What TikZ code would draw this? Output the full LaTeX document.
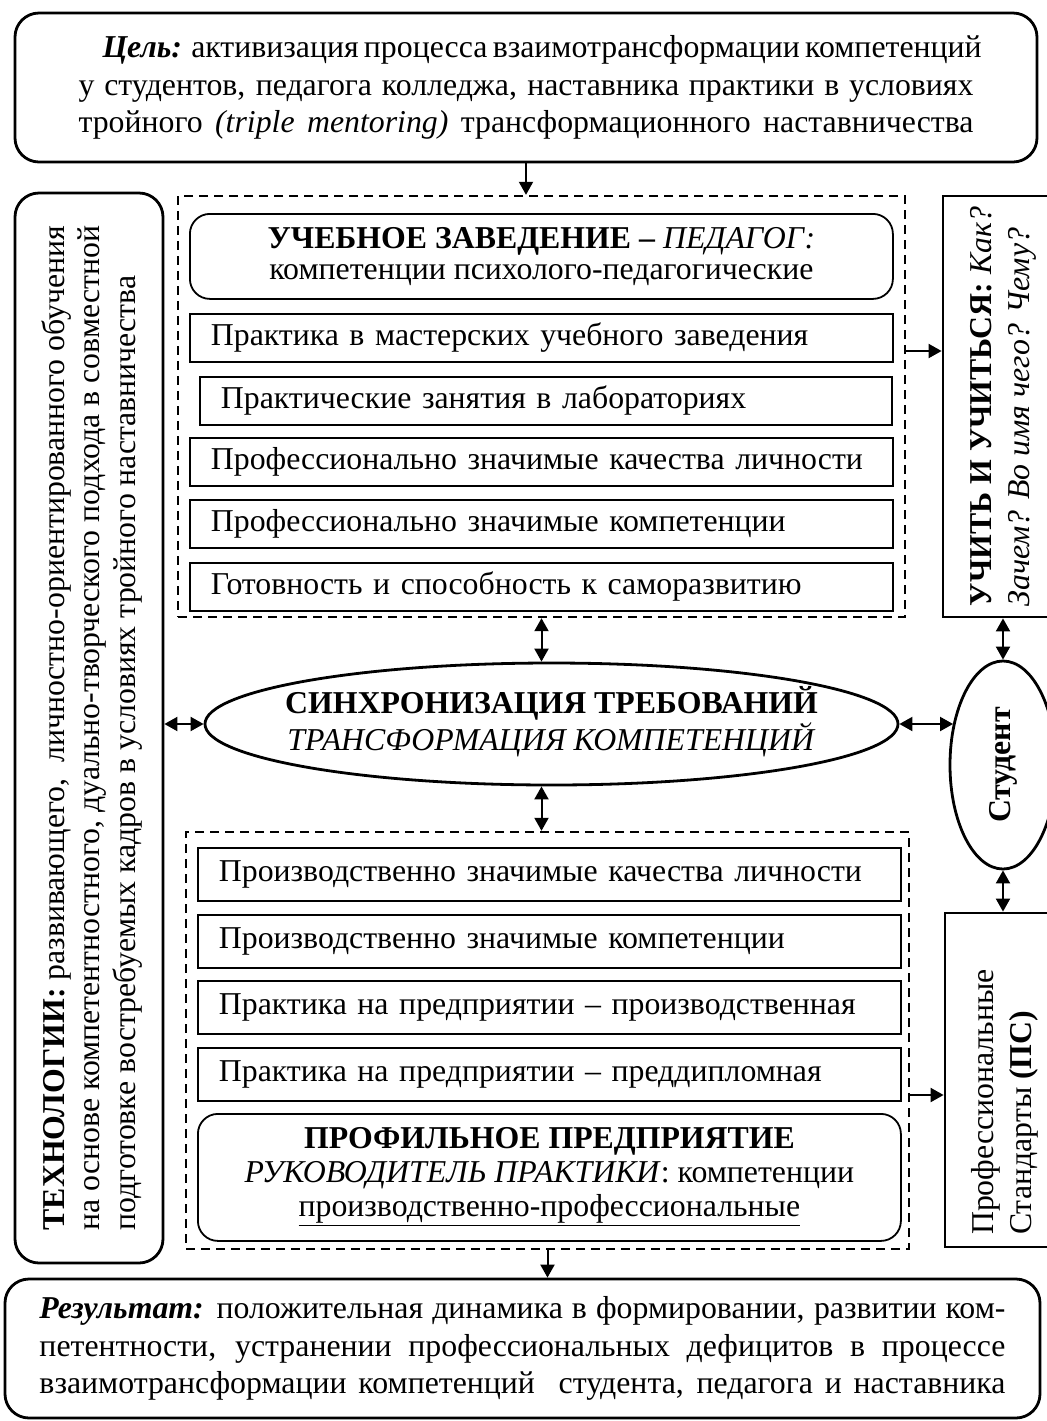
\documentclass[tikz,border=0pt]{standalone}
\usepackage{fontspec}
\setmainfont{Liberation Serif}
\usepackage{graphicx}
\usetikzlibrary{shapes,arrows.meta,positioning,calc}

\newcommand{\fs}{\fontsize{15.9}{18.8}\selectfont}
\newcommand{\fullline}[2]{\makebox[#1][s]{#2}}

\begin{document}
\begin{tikzpicture}[x=0.5pt, y=-0.5pt,
    every node/.style={font=\fs},
    frame/.style={draw, line width=1.4pt, rounded corners=12pt, inner sep=0pt, align=center},
    plain/.style={draw, line width=1.4pt, inner sep=0pt},
    dashbox/.style={draw, line width=1.2pt, dash pattern=on 4.5pt off 3pt, inner sep=0pt},
    row/.style={draw, line width=0.9pt, align=left, inner xsep=10.5pt, inner ysep=0pt, text width=330.5pt},
    head/.style={draw, line width=0.9pt, rounded corners=10pt, align=center, inner sep=0pt, minimum width=351.5pt},
    oval/.style={draw, ellipse, line width=1.4pt, inner sep=0pt},
    arr/.style={line width=1pt, -{Triangle[length=6.5pt,width=7pt]}},
    dbl/.style={line width=1pt, {Triangle[length=6.5pt,width=7pt]}-{Triangle[length=6.5pt,width=7pt]}}]

    \useasboundingbox (0,0) rectangle (1047,1421);

    % goal and result
    \node (goal) [frame, minimum width=511pt, minimum height=74.5pt] at (526,87.5)
        {\fullline{447.5pt}{\hspace{12pt}\textbf{\textit{Цель:}} активизация процесса взаимотрансформации компетенций}\\
         \fullline{447.5pt}{у студентов, педагога колледжа, наставника практики в условиях}\\
         \fullline{447.5pt}{тройного \textit{(triple mentoring)} трансформационного наставничества}};
    \node (result) [frame, minimum width=517.5pt, minimum height=69.5pt] at (522.5,1348.5)
        {\fullline{483pt}{\textbf{\textit{Результат:}} положительная динамика в формировании, развитии ком-}\\
         \fullline{483pt}{петентности, устранении профессиональных дефицитов в процессе}\\
         \fullline{483pt}{взаимотрансформации компетенций\ \ студента, педагога и наставника}};

    % side blocks
    \node (tech) [frame, minimum width=74pt, minimum height=535pt] at (89,728)
        {\rotatebox{90}{\raisebox{-6pt}[0pt][0pt]{\begin{tabular}{@{}l@{}}
            \textbf{ТЕХНОЛОГИИ:} развивающего,\ \ личностно-ориентированного обучения\\[-1pt]
            на основе компетентностного, дуально-творческого подхода в совместной\\[-1pt]
            подготовке востребуемых кадров в условиях тройного наставничества
         \end{tabular}}}};
    \node (uchit) [plain, minimum width=60pt, minimum height=210.5pt] at (1003,406.5)
        {\rotatebox{90}{\begin{tabular}{@{}l@{}}
            \textbf{УЧИТЬ И УЧИТЬСЯ:} \textit{Как?}\\
            \textit{Зачем? Во имя чего? Чему?}
         \end{tabular}}};
    \node (stud) [oval, minimum width=53pt, minimum height=104pt] at (1003,765)
        {\rotatebox{90}{\textbf{Студент}}};
    \node (ps) [plain, minimum width=60pt, minimum height=167pt] at (1005,1080)
        {\rotatebox{90}{\begin{tabular}{@{}l@{}}
            Профессиональные\\
            Стандарты \textbf{(ПС)}
         \end{tabular}\hspace{22pt}}};

    % upper block
    \node (updash) [dashbox, minimum width=363.5pt, minimum height=210.5pt] at (541.5,406.5) {};
    \node (school) [head, minimum height=42.5pt, anchor=north west] at (189,213)
        {\textbf{УЧЕБНОЕ ЗАВЕДЕНИЕ –} \textit{ПЕДАГОГ:}\\[-3pt]
         компетенции психолого-педагогические};
    \node (up1) [row, minimum height=24pt, below=6.5pt of school.south west, anchor=north west]
        {Практика в мастерских учебного заведения};
    \node (up2) [row, minimum height=24pt, text width=325pt, below=6.6pt of up1.south west, anchor=north west, xshift=5pt]
        {Практические занятия в лабораториях};
    \node (up3) [row, minimum height=24pt, below=5.8pt of up2.south west, anchor=north west, xshift=-5pt]
        {Профессионально значимые качества личности};
    \node (up4) [row, minimum height=24pt, below=6.1pt of up3.south west, anchor=north west]
        {Профессионально значимые компетенции};
    \node (up5) [row, minimum height=24pt, below=6.4pt of up4.south west, anchor=north west]
        {Готовность и способность к саморазвитию};

    % centre
    \node (sync) [oval, minimum width=346.5pt, minimum height=61pt] at (551.5,724)
        {\makebox[0pt]{\begin{tabular}{@{}c@{}}
            \textbf{СИНХРОНИЗАЦИЯ ТРЕБОВАНИЙ}\\[-1pt]
            \textit{ТРАНСФОРМАЦИЯ КОМПЕТЕНЦИЙ}
         \end{tabular}}};

    % lower block
    \node (lowdash) [dashbox, minimum width=361.5pt, minimum height=208.5pt] at (547.5,1040.5) {};
    \node (lo1) [row, minimum height=26.5pt, anchor=north west] at (197,847)
        {Производственно значимые качества личности};
    \node (lo2) [row, minimum height=26.5pt, below=6.1pt of lo1.south west, anchor=north west]
        {Производственно значимые компетенции};
    \node (lo3) [row, minimum height=26.5pt, below=5.6pt of lo2.south west, anchor=north west]
        {Практика на предприятии – производственная};
    \node (lo4) [row, minimum height=26.5pt, below=6.1pt of lo3.south west, anchor=north west]
        {Практика на предприятии – преддипломная};
    \node (firm) [head, minimum height=63.5pt, below=5.6pt of lo4.south west, anchor=north west]
        {\textbf{ПРОФИЛЬНОЕ ПРЕДПРИЯТИЕ}\\[-2pt]
         \textit{РУКОВОДИТЕЛЬ ПРАКТИКИ}: компетенции\\[-2pt]
         \underline{производственно-профессиональные}};

    % connectors
    \draw[arr] (goal.south) -- (goal.south |- updash.north);
    \draw[arr] ([yshift=27.75pt]updash.east) -- ([yshift=27.75pt]updash.east -| uchit.west);
    \draw[dbl] (updash.south) -- (updash.south |- sync.north);
    \draw[dbl] (sync.south -| updash.south) -- (lowdash.north -| updash.south);
    \draw[dbl] (tech.east |- sync.west) -- (sync.west);
    \draw[dbl] (sync.east) -- (sync.east -| stud.140);
    \draw[dbl] (stud.north |- uchit.south) -- (stud.north);
    \draw[dbl] (stud.south) -- (stud.south |- ps.north);
    \draw[arr] ([yshift=-27.25pt]lowdash.east) -- ([yshift=-27.25pt]lowdash.east -| ps.west);
    \draw[arr] (lowdash.south) -- (lowdash.south |- result.north);

\end{tikzpicture}
\end{document}
